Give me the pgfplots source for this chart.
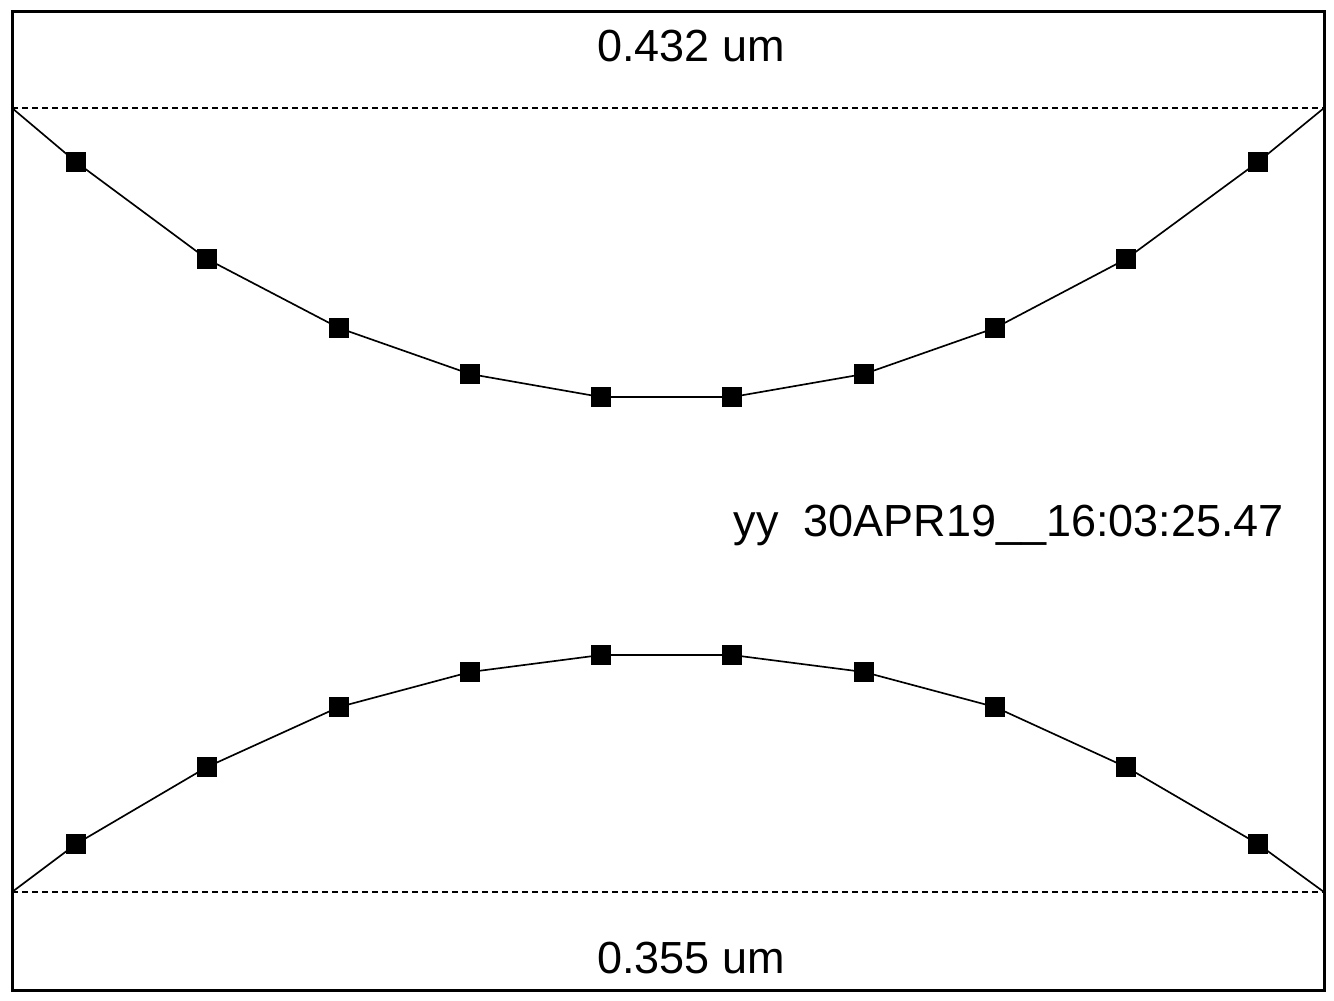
\documentclass[border=0pt]{standalone}
\usepackage{pgfplots}
\pgfplotsset{compat=1.18}
\usepackage{fontspec}
\setmainfont{Liberation Sans}
\begin{document}
\begin{tikzpicture}
\begin{axis}[
  scale only axis,
  width=393.6pt, height=293.7pt,
  xmin=12, xmax=1324, ymin=11, ymax=990,
  y dir=reverse,
  xtick=\empty, ytick=\empty,
  axis line style={line width=0.9pt},
  clip=false,
]
% invisible extent for the page
\addplot[draw=none, forget plot] coordinates {(0,0) (1334,1000)};
% dashed limits
\addplot[dash pattern=on 1.8pt off 1.2pt, line width=0.65pt] coordinates {(12,108) (1324,108)};
\addplot[dash pattern=on 1.8pt off 1.2pt, line width=0.65pt] coordinates {(12,892) (1324,892)};
% upper curve
\addplot[black, line width=0.5pt] coordinates {
(12,108) (76,162) (207,259) (339,328) (470,374) (601,397) (732,397) (864,374) (995,328) (1126,259) (1258,162) (1324,108)};
\addplot[only marks, mark=square*, mark size=2.7pt, black] coordinates {
(76,162) (207,259) (339,328) (470,374) (601,397) (732,397) (864,374) (995,328) (1126,259) (1258,162)};
% lower curve
\addplot[black, line width=0.5pt] coordinates {
(12,892) (76,844) (207,767) (339,707) (470,672) (601,655) (732,655) (864,672) (995,707) (1126,767) (1258,844) (1324,892)};
\addplot[only marks, mark=square*, mark size=2.7pt, black] coordinates {
(76,844) (207,767) (339,707) (470,672) (601,655) (732,655) (864,672) (995,707) (1126,767) (1258,844)};
\node[anchor=base, inner sep=0pt, font=\fontsize{13.5}{16}\selectfont] at (axis cs:691,61) {0.432 um};
\node[anchor=base, inner sep=0pt, font=\fontsize{13.5}{16}\selectfont] at (axis cs:691,973) {0.355 um};
\node[anchor=base west, inner sep=0pt, font=\fontsize{13.5}{16}\selectfont] at (axis cs:733,536) {yy\ \ 30APR19\_\_16:03:25.47};
\end{axis}
\end{tikzpicture}
\end{document}
